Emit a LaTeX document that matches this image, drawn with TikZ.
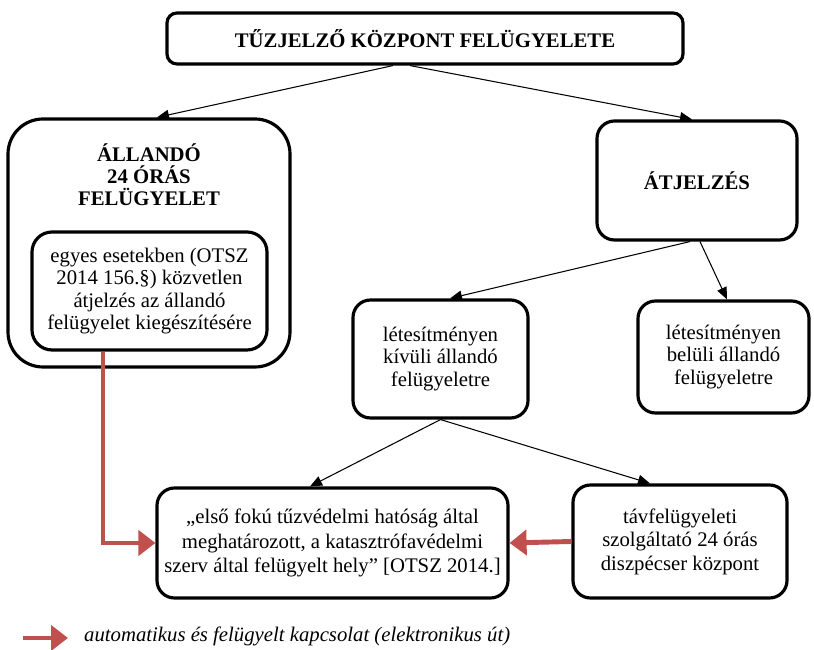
\documentclass[tikz,border=0pt]{standalone}
\usepackage{fontspec}
\setmainfont{Liberation Serif}
\usetikzlibrary{arrows.meta,positioning,calc}
\definecolor{piros}{HTML}{C0504D}

\begin{document}
\begin{tikzpicture}[
    doboz/.style={draw, line width=1.8pt, rounded corners=0.35cm, align=center,
        inner sep=2pt, font=\fontsize{11.8}{12.8}\selectfont},
    felirat/.style={font=\bfseries\fontsize{11.8}{12.6}\selectfont},
    nyil/.style={-{Triangle[length=2.4mm,width=2mm]}, line width=0.6pt},
    piros nyil/.style={-{Triangle[length=3.4mm,width=5mm]}, piros, line width=2.8pt}
]
    % Keret
    \useasboundingbox (0,0) rectangle (16.28,13);

    % Felso doboz
    \node[doboz, felirat, rounded corners=0.2cm, minimum width=10.32cm, minimum height=1.02cm] (kozpont) at (8.5,12.23) {TŰZJELZŐ KÖZPONT FELÜGYELETE};

    % Allando felugyelet
    \node[doboz, rounded corners=0.7cm, minimum width=5.64cm, minimum height=4.96cm] (allando) at (2.98,8.14) {};
    \node[felirat, align=center] (allandocim) at (2.98,9.5) {ÁLLANDÓ\\24 ÓRÁS\\FELÜGYELET};
    \node[doboz, rounded corners=0.4cm, minimum width=4.7cm, minimum height=2.36cm] (egyes) at (2.99,7.18) {egyes esetekben (OTSZ\\2014 156.§) közvetlen\\átjelzés az állandó\\felügyelet kiegészítésére};

    % Atjelzes
    \node[doboz, felirat, minimum width=4cm, minimum height=2.38cm] (atjelzes) at (13.94,9.39) {ÁTJELZÉS};
    \node[doboz, minimum width=3.5cm, minimum height=2.36cm] (kivuli) at (8.81,5.82) {létesítményen\\kívüli állandó\\felügyeletre};
    \node[doboz, minimum width=3.42cm, minimum height=2.24cm] (beluli) at (14.47,5.86) {létesítményen\\belüli állandó\\felügyeletre};

    % Also sor
    \node[doboz, minimum width=7.02cm, minimum height=2.2cm, font=\fontsize{11.8}{13.8}\selectfont] (hely) at (6.65,2.14) {„első fokú tűzvédelmi hatóság által\\meghatározott, a katasztrófavédelmi\\szerv által felügyelt hely” [OTSZ 2014.]};
    \node[doboz, minimum width=4.28cm, minimum height=2.26cm, font=\fontsize{11.8}{13.4}\selectfont] (tav) at (13.6,2.17) {távfelügyeleti\\szolgáltató 24 órás\\diszpécser központ};

    % Nyilak
    \draw[nyil] ([xshift=-0.64cm]kozpont.south) -- ([xshift=0.16cm]allando.north);
    \draw[nyil] ([xshift=-0.3cm]kozpont.south) -- ([xshift=-0.1cm]atjelzes.north);
    \draw[nyil] ([xshift=-0.14cm]atjelzes.south) -- ([xshift=0.19cm]kivuli.north);
    \draw[nyil] ([xshift=0.06cm]atjelzes.south) -- ([xshift=0.07cm]beluli.north);
    \draw[nyil] (kivuli.south) -- ([xshift=-0.45cm]hely.north);
    \draw[nyil] (kivuli.south) -- ([xshift=-0.6cm]tav.north);

    % Elektronikus ut
    \draw[piros nyil] ([xshift=-0.93cm]egyes.south) |- (hely.west);
    \draw[piros nyil] (tav.west) -- (hely.east);

    % Jelmagyarazat
    \coordinate (jelkezd) at (0.46,0.24);
    \coordinate (jelveg) at (1.36,0.24);
    \draw[piros nyil] (jelkezd) -- (jelveg);
    \node[anchor=west, font=\itshape\fontsize{11.8}{12.6}\selectfont] (jelmagyarazat) at (1.56,0.28) {automatikus és felügyelt kapcsolat (elektronikus út)};
\end{tikzpicture}
\end{document}
